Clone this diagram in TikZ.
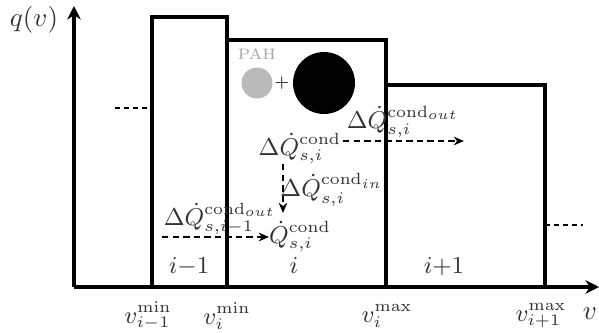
\documentclass[tikz,border=0pt]{standalone}
\usetikzlibrary{arrows.meta}
\begin{document}
\begin{tikzpicture}[x=0.37pt,y=-0.37pt,
  bar/.style={line width=1.15pt},
  axis/.style={line width=1.3pt,-{Stealth[length=5pt,width=5pt]}},
  stub/.style={line width=0.8pt,dash pattern=on 2pt off 1.3pt},
  flow/.style={line width=0.8pt,dash pattern=on 2.4pt off 1.5pt,-{Stealth[length=3.8pt,width=3.2pt]}},
  lbl/.style={text=black!80,inner sep=0pt,font=\fontsize{9.2}{11}\selectfont},
  big/.style={text=black!80,inner sep=0pt,font=\fontsize{10.2}{12}\selectfont},
  ]
\useasboundingbox (0,0) rectangle (599,332);
% bars
\draw[bar] (152,287) -- (152,17) -- (227,17) -- (227,287);
\draw[bar] (227,40) -- (386,40) -- (386,287);
\draw[bar] (386,85) -- (545,85) -- (545,287);
% axes
\coordinate (O) at (74,287);
\coordinate (ytip) at (74,6);
\coordinate (xtip) at (599,287);
\draw[axis] (O) -- (ytip);
\draw[axis] (O) -- (xtip);
% dashed stubs
\coordinate (sl1) at (115,108); \coordinate (sl2) at (152,108);
\coordinate (sr1) at (545,225); \coordinate (sr2) at (583,225);
\draw[stub] (sl1) -- (sl2);
\draw[stub] (sr1) -- (sr2);
% axis labels
\node[big] (qv) at (34,20) {$q(v)$};
\node[big] (vx) at (590,314) {$v$};
\node[lbl] (v1) at (148,316) {$v_{i-1}^{\min}$};
\node[lbl] (v2) at (227,316) {$v_{i}^{\min}$};
\node[lbl] (v3) at (387,316) {$v_{i}^{\max}$};
\node[lbl] (v4) at (541,316) {$v_{i+1}^{\max}$};
% bar labels
\node[lbl,anchor=base] (b1) at (189,273) {$i{-}1$};
\node[lbl,anchor=base] (b2) at (294,273) {$i$};
\node[lbl,anchor=base] (b3) at (444,273) {$i{+}1$};
% particles
\node[inner sep=0pt,text=black!35,font=\fontsize{5.6}{7}\selectfont] (pah) at (257,54) {PAH};
\node[circle,fill=black!27,minimum size=31*0.37pt,inner sep=0pt] (c1) at (257,83) {};
\node[inner sep=0pt,font=\fontsize{6.5}{7}\selectfont\sffamily] (plus) at (282,83) {+};
\node[circle,fill=black,minimum size=62*0.37pt,inner sep=0pt] (c2) at (324,83) {};
% fluxes
\node[lbl] (dq) at (300,148) {$\Delta\dot{Q}_{s,i}^{\mathrm{cond}}$};
\node[lbl] (dqin) at (332,190) {$\Delta\dot{Q}_{s,i}^{\mathrm{cond}_{in}}$};
\node[lbl] (qs) at (300,236) {$\dot{Q}_{s,i}^{\mathrm{cond}}$};
\node[lbl] (dqo1) at (220,219) {$\Delta\dot{Q}_{s,i-1}^{\mathrm{cond}_{out}}$};
\node[lbl] (dqo) at (403,122) {$\Delta\dot{Q}_{s,i}^{\mathrm{cond}_{out}}$};
\coordinate (a1) at (283,164); \coordinate (a2) at (283,213);
\coordinate (h1) at (162,237); \coordinate (h2) at (269,237);
\coordinate (r1) at (343,141); \coordinate (r2) at (464,141);
\draw[flow] (a1) -- (a2);
\draw[flow] (h1) -- (h2);
\draw[flow] (r1) -- (r2);
\end{tikzpicture}
\end{document}
